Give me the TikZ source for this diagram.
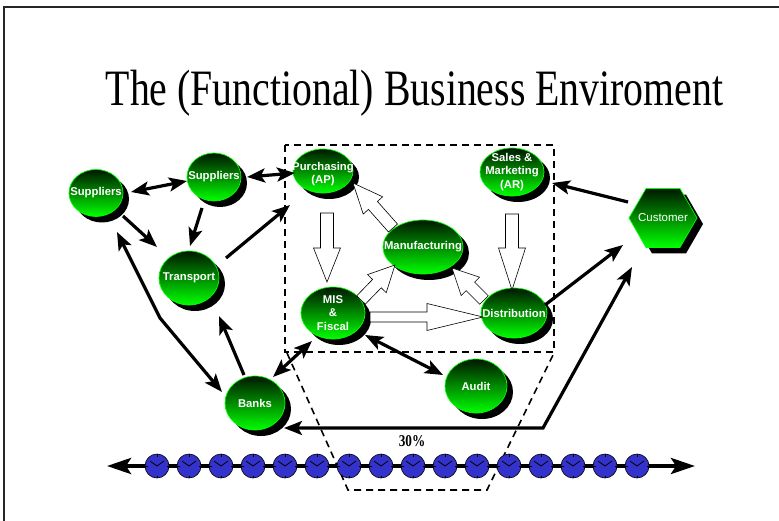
\documentclass[tikz,border=0pt]{standalone}
\usepackage{fontspec}
\setmainfont{Liberation Serif}
\newfontfamily\arialfont{Liberation Sans}
\usetikzlibrary{arrows.meta,shapes.geometric,shadows,calc}

\definecolor{leaf}{RGB}{0,255,0}
\definecolor{pine}{RGB}{0,24,0}
\definecolor{clockblue}{RGB}{51,51,204}

\def\hollowS{6}\def\hollowH{13}\def\hollowL{30}

\tikzset{
  blob/.style={ellipse, draw=leaf, line width=0.7pt, top color=pine, bottom color=leaf,
    inner sep=0pt, drop shadow={shadow xshift=6pt, shadow yshift=-6pt, fill=black, opacity=1}},
  hexa/.style={regular polygon, regular polygon sides=6, minimum size=68pt, inner sep=0pt,
    draw=leaf, line width=0.7pt, top color=pine, bottom color=leaf,
    drop shadow={shadow xshift=6pt, shadow yshift=-6pt, fill=black, opacity=1}},
  lbl/.style={text=white, inner sep=0pt, align=center,
    font=\arialfont\bfseries\fontsize{11.3}{13.5}\selectfont},
  arr/.style={line width=3.2pt, -{Stealth[length=18pt,width=14pt,inset=4pt]}},
  darr/.style={line width=3.2pt, {Stealth[length=18pt,width=14pt,inset=4pt]}-{Stealth[length=18pt,width=14pt,inset=4pt]}},
  boxline/.style={line width=1.6pt, dash pattern=on 7pt off 5pt},
  hshaft/.code={\def\hollowS{#1}},
  hhead/.code={\def\hollowH{#1}},
  hlen/.code={\def\hollowL{#1}},
  hollow/.style={draw=black, fill=white, line width=0.6pt,
    to path={let \p1=(\tikztostart), \p2=(\tikztotarget),
      \n1={atan2(\y2-\y1,\x2-\x1)}, \n2={veclen(\x2-\x1,\y2-\y1)} in
      {[shift={(\p1)}, rotate=\n1]
       (0,-\hollowS) -- (\n2-\hollowL,-\hollowS) -- (\n2-\hollowL,-\hollowH) -- (\n2,0)
       -- (\n2-\hollowL,\hollowH) -- (\n2-\hollowL,\hollowS) -- (0,\hollowS) -- cycle}}},
  clock/.style={circle, fill=clockblue, draw=black, line width=0.6pt, minimum size=24pt, inner sep=0pt,
    path picture={
      \draw[line width=0.5pt]
        ([yshift=12pt]path picture bounding box.center) -- ++(0pt,-2.5pt)
        ([yshift=-12pt]path picture bounding box.center) -- ++(0pt,2.5pt)
        ([xshift=12pt]path picture bounding box.center) -- ++(-2.5pt,0pt)
        ([xshift=-12pt]path picture bounding box.center) -- ++(2.5pt,0pt);
      \draw[line width=0.8pt]
        ([shift={(-7pt,5pt)}]path picture bounding box.center)
        -- (path picture bounding box.center) -- ++(7pt,5pt);
    }},
}

\begin{document}
\begin{tikzpicture}[x=1pt,y=-1pt]
\useasboundingbox (0,0) rectangle (779,521);
\fill[white] (0,0) rectangle (779,521);

% slide frame
\draw[line width=1.8pt, black!85] (4,521) -- (4,7) -- (779,7);

% title
\node[anchor=base, inner sep=0pt, font=\fontsize{51}{60}\selectfont] (title) at (414.5,106)
  {\scalebox{0.78}[1]{The (Functional) Business Enviroment}};

% dashed enterprise box and its funnel
\draw[boxline] (285,145) rectangle (554,352);
\draw[boxline] (287,353) -- (348,490) -- (487,490) -- (554,353);

% function nodes
\node[blob, minimum width=54pt, minimum height=47pt, label={[lbl]center:Suppliers}] (s1) at (96,193) {};
\node[blob, minimum width=54pt, minimum height=48pt, label={[lbl]center:Suppliers}] (s2) at (214,177) {};
\node[blob, minimum width=60pt, minimum height=54pt, label={[lbl]center:Transport}] (tr) at (189,278) {};
\node[blob, minimum width=60pt, minimum height=44pt, label={[lbl,yshift=-3pt]center:Purchasing\\(AP)}] (pu) at (323,171) {};
\node[blob, minimum width=64pt, minimum height=48pt, label={[lbl]center:Sales \&\\Marketing\\(AR)}] (sa) at (512,172) {};
\node[blob, minimum width=80pt, minimum height=54pt, label={[lbl]center:Manufacturing}] (mf) at (423,247) {};
\node[blob, minimum width=64pt, minimum height=52pt, label={[lbl]center:MIS\\\&\\Fiscal}] (mis) at (333,313) {};
\node[blob, minimum width=66pt, minimum height=50pt, label={[lbl]center:Distribution}] (di) at (514,313) {};
\node[blob, minimum width=60pt, minimum height=54pt, label={[lbl]center:Banks}] (ba) at (255,403) {};
\node[blob, minimum width=62pt, minimum height=54pt, label={[lbl]center:Audit}] (au) at (476,386) {};
\node[hexa, label={[lbl,font=\arialfont\fontsize{11.5}{13}\selectfont]center:Customer}] (cu) at (663,218) {};

% bend points of the long connectors
\coordinate (bendA) at (160,318);
\coordinate (bendB) at (543,428);

% black flow connectors
\draw[darr] ([shift={(35,-1)}]s1.center) -- ([shift={(-27,4)}]s2.center);
\draw[darr] ([shift={(33,0)}]s2.center) -- ([shift={(-28,2)}]pu.center);
\draw[arr] ([shift={(-12,31)}]s2.center) -- ([shift={(1,-32)}]tr.center);
\draw[arr] ([shift={(27,23)}]s1.center) -- ([shift={(-32,-31)}]tr.center);
\draw[arr] ([shift={(37,-20)}]tr.center) -- ([shift={(-33,34)}]pu.center);
\draw[darr] ([shift={(21,39)}]s1.center) -- (bendA) -- ([shift={(-33,-11)}]ba.center);
\draw[arr] ([shift={(-11,-28)}]ba.center) -- ([shift={(30,38)}]tr.center);
\draw[darr] ([shift={(18,-26)}]ba.center) -- ([shift={(-21,28)}]mis.center);
\draw[darr] ([shift={(32,22)}]mis.center) -- ([shift={(-33,-11)}]au.center);
\draw[arr] ([shift={(31,-8)}]di.center) -- ([shift={(-40,27)}]cu.center);
\draw[arr] ([shift={(-35,-16)}]cu.center) -- ([shift={(40,11)}]sa.center);
\draw[darr] ([shift={(-31,49)}]cu.center) -- (bendB) -- ([shift={(29,25)}]ba.center);

\node[inner sep=0pt, font=\bfseries\fontsize{16.5}{18}\selectfont] (pct) at (412,441) {\scalebox{0.8}[1]{30\%}};

% hollow internal flows
\draw[hollow, hshaft=6.5, hhead=13.5, hlen=34] ([shift={(4,42)}]pu.center) to ([shift={(-6,-31)}]mis.center);
\draw[hollow, hshaft=6, hhead=13, hlen=30] ([shift={(-30,-19)}]mf.center) to ([shift={(30,12)}]pu.center);
\draw[hollow, hshaft=6, hhead=13, hlen=26] ([shift={(28,-13)}]mis.center) to ([shift={(-28,18)}]mf.center);
\draw[hollow, hshaft=6, hhead=13, hlen=26] ([shift={(-30,-13)}]di.center) to ([shift={(29,21)}]mf.center);
\draw[hollow, hshaft=5, hhead=13.5, hlen=56] ([shift={(37,4)}]mis.center) to ([shift={(-31,4)}]di.center);
\draw[hollow, hshaft=6.5, hhead=13.5, hlen=42] ([shift={(0,42)}]sa.center) to ([shift={(-2,-23)}]di.center);

% time line with clocks
\coordinate (tlL) at (107,466);
\coordinate (tlR) at (695,466);
\draw[line width=4pt, {Stealth[length=24pt,width=16pt,inset=5pt]}-{Stealth[length=24pt,width=16pt,inset=5pt]}] (tlL) -- (tlR);
\foreach \i in {0,...,15} { \node[clock] (clk\i) at ({157+32*\i},466) {}; }
\end{tikzpicture}
\end{document}
